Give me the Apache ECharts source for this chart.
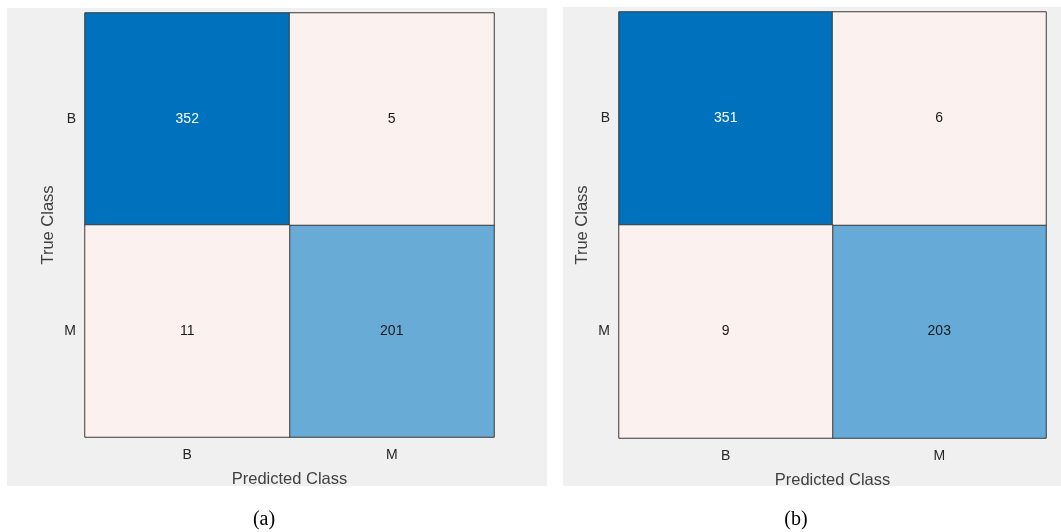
<!DOCTYPE html>
<html>
<head>
<meta charset="utf-8">
<script src="https://cdn.jsdelivr.net/npm/echarts@6/dist/echarts.min.js"></script>
<style>html,body{margin:0;padding:0;background:#fff;}#c{width:1061px;height:532px;}</style>
</head>
<body>
<div id="c"></div>
<script>
const categories = ['B', 'M'];
const matrixA = [[352, 5], [11, 201]];
const matrixB = [[351, 6], [9, 203]];
const captions = ['(a)', '(b)'];
const xAxisName = 'Predicted Class';
const yAxisName = 'True Class';

function split(m) {
  const diag = [], off = [];
  m.forEach((row, i) => row.forEach((v, j) => {
    (i === j ? diag : off).push([j, i, v]);
  }));
  return {diag, off};
}
function maxOf(m) { return Math.max(...m.flat()); }

const chart = echarts.init(document.getElementById('c'), null, {renderer: 'canvas'});
const grids = [
  {left: 85, top: 13, width: 409, height: 424},
  {left: 619, top: 12, width: 427, height: 426}
];
const mats = [matrixA, matrixB];
const series = [], xAxes = [], yAxes = [], visualMaps = [];
mats.forEach((m, k) => {
  const s = split(m);
  const mx = maxOf(m);
  xAxes.push({
    type: 'category', gridIndex: k, data: categories,
    name: xAxisName, nameLocation: 'middle', nameGap: 34,
    nameTextStyle: {fontFamily: 'Liberation Sans', fontSize: 16.5, color: '#404040'},
    axisLine: {show: false}, axisTick: {show: false}, splitLine: {show: false},
    axisLabel: {fontFamily: 'Liberation Sans', fontSize: 14, color: '#262626', margin: 11}
  });
  yAxes.push({
    type: 'category', gridIndex: k, data: categories, inverse: true,
    name: yAxisName, nameLocation: 'middle', nameGap: 28,
    nameTextStyle: {fontFamily: 'Liberation Sans', fontSize: 16.5, color: '#404040'},
    axisLine: {show: false}, axisTick: {show: false}, splitLine: {show: false},
    axisLabel: {fontFamily: 'Liberation Sans', fontSize: 14, color: '#262626', margin: 9}
  });
  const labelCfg = {
    show: true,
    formatter: p => (p.value[2] / mx > 0.7 ? '{w|' : '{k|') + p.value[2] + '}',
    rich: {
      w: {color: '#ffffff', fontFamily: 'Liberation Sans', fontSize: 14},
      k: {color: '#1a1a1a', fontFamily: 'Liberation Sans', fontSize: 14}
    }
  };
  visualMaps.push({
    type: 'continuous', show: false, min: 0, max: mx, dimension: 2,
    seriesIndex: series.length,
    inRange: {color: ['#f2f6fa', '#0072BD']}
  });
  series.push({
    type: 'heatmap', xAxisIndex: k, yAxisIndex: k, data: s.diag,
    itemStyle: {borderColor: '#3a3a3a', borderWidth: 1},
    label: labelCfg, emphasis: {disabled: true}
  });
  series.push({
    type: 'heatmap', xAxisIndex: k, yAxisIndex: k, data: s.off,
    itemStyle: {color: '#FBF1EE', borderColor: '#3a3a3a', borderWidth: 1},
    label: labelCfg, emphasis: {disabled: true}
  });
});

chart.setOption({
  animation: false,
  backgroundColor: '#ffffff',
  grid: grids,
  xAxis: xAxes,
  yAxis: yAxes,
  visualMap: visualMaps,
  graphic: [
    {type: 'rect', z: -10, shape: {x: 7, y: 8, width: 540, height: 478}, style: {fill: '#f0f0f0'}},
    {type: 'rect', z: -10, shape: {x: 563, y: 7, width: 498, height: 479}, style: {fill: '#f0f0f0'}},
    {type: 'text', x: 264, y: 520, style: {text: captions[0], fill: '#000', font: '20px "Liberation Serif"', textAlign: 'center', textVerticalAlign: 'middle'}},
    {type: 'text', x: 796, y: 520, style: {text: captions[1], fill: '#000', font: '20px "Liberation Serif"', textAlign: 'center', textVerticalAlign: 'middle'}}
  ],
  series: series
});
</script>
</body>
</html>
